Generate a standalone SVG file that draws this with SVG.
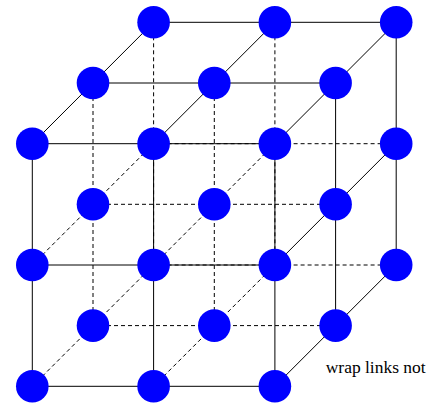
<svg xmlns="http://www.w3.org/2000/svg" width="429" height="405" viewBox="0 0 429 405">
<style>
.s{stroke:#000;stroke-width:1;fill:none}
.d{stroke:#000;stroke-width:1;fill:none;stroke-dasharray:4 3}
.n{fill:#0000ff}
.t{font-family:"Liberation Serif","Times New Roman",serif;font-size:17px;fill:#000}
</style>
<rect width="429" height="405" fill="#fff"/>
<g id="connectors">
<g id="hidden">
<line class="d" x1="153.6" y1="143.7" x2="396.2" y2="143.7"/>
<line class="d" x1="153.6" y1="265" x2="396.2" y2="265"/>
<line class="d" x1="93" y1="204.3" x2="335.6" y2="204.3"/>
<line class="d" x1="93" y1="325.6" x2="335.6" y2="325.6"/>
<line class="d" x1="153.6" y1="22.3" x2="153.6" y2="265"/>
<line class="d" x1="274.9" y1="22.3" x2="274.9" y2="265"/>
<line class="d" x1="93" y1="83" x2="93" y2="325.6"/>
<line class="d" x1="214.3" y1="83" x2="214.3" y2="325.6"/>
<line class="d" x1="32.3" y1="265" x2="153.6" y2="143.7"/>
<line class="d" x1="153.6" y1="265" x2="274.9" y2="143.7"/>
<line class="d" x1="32.3" y1="386.3" x2="153.6" y2="265"/>
<line class="d" x1="153.6" y1="386.3" x2="274.9" y2="265"/>
</g>
<g id="visible">
<line class="s" x1="32.3" y1="143.7" x2="274.9" y2="143.7"/>
<line class="s" x1="32.3" y1="265" x2="274.9" y2="265"/>
<line class="s" x1="32.3" y1="386.3" x2="274.9" y2="386.3"/>
<line class="s" x1="153.6" y1="22.3" x2="396.2" y2="22.3"/>
<line class="s" x1="93" y1="83" x2="335.6" y2="83"/>
<line class="s" x1="32.3" y1="143.7" x2="32.3" y2="386.3"/>
<line class="s" x1="153.6" y1="143.7" x2="153.6" y2="386.3"/>
<line class="s" x1="274.9" y1="143.7" x2="274.9" y2="386.3"/>
<line class="s" x1="396.2" y1="22.3" x2="396.2" y2="265"/>
<line class="s" x1="335.6" y1="83" x2="335.6" y2="325.6"/>
<line class="s" x1="32.3" y1="143.7" x2="153.6" y2="22.3"/>
<line class="s" x1="153.6" y1="143.7" x2="274.9" y2="22.3"/>
<line class="s" x1="274.9" y1="143.7" x2="396.2" y2="22.3"/>
<line class="s" x1="274.9" y1="265" x2="396.2" y2="143.7"/>
<line class="s" x1="274.9" y1="386.3" x2="396.2" y2="265"/>
</g>
</g>
<g id="n-back-0-0"><circle class="n" cx="153.6" cy="22.3" r="16.3"/></g>
<g id="n-back-1-0"><circle class="n" cx="274.9" cy="22.3" r="16.3"/></g>
<g id="n-back-2-0"><circle class="n" cx="396.2" cy="22.3" r="16.3"/></g>
<g id="n-back-2-1"><circle class="n" cx="396.2" cy="143.7" r="16.3"/></g>
<g id="n-back-2-2"><circle class="n" cx="396.2" cy="265" r="16.3"/></g>
<g id="n-mid-0-0"><circle class="n" cx="93" cy="83" r="16.3"/></g>
<g id="n-mid-1-0"><circle class="n" cx="214.3" cy="83" r="16.3"/></g>
<g id="n-mid-2-0"><circle class="n" cx="335.6" cy="83" r="16.3"/></g>
<g id="n-mid-0-1"><circle class="n" cx="93" cy="204.3" r="16.3"/></g>
<g id="n-mid-1-1"><circle class="n" cx="214.3" cy="204.3" r="16.3"/></g>
<g id="n-mid-2-1"><circle class="n" cx="335.6" cy="204.3" r="16.3"/></g>
<g id="n-mid-0-2"><circle class="n" cx="93" cy="325.6" r="16.3"/></g>
<g id="n-mid-1-2"><circle class="n" cx="214.3" cy="325.6" r="16.3"/></g>
<g id="n-mid-2-2"><circle class="n" cx="335.6" cy="325.6" r="16.3"/></g>
<g id="n-front-0-0"><circle class="n" cx="32.3" cy="143.7" r="16.3"/></g>
<g id="n-front-1-0"><circle class="n" cx="153.6" cy="143.7" r="16.3"/></g>
<g id="n-front-2-0"><circle class="n" cx="274.9" cy="143.7" r="16.3"/></g>
<g id="n-front-0-1"><circle class="n" cx="32.3" cy="265" r="16.3"/></g>
<g id="n-front-1-1"><circle class="n" cx="153.6" cy="265" r="16.3"/></g>
<g id="n-front-2-1"><circle class="n" cx="274.9" cy="265" r="16.3"/></g>
<g id="n-front-0-2"><circle class="n" cx="32.3" cy="386.3" r="16.3"/></g>
<g id="n-front-1-2"><circle class="n" cx="153.6" cy="386.3" r="16.3"/></g>
<g id="n-front-2-2"><circle class="n" cx="274.9" cy="386.3" r="16.3"/></g>
<text class="t" x="325.7" y="373" textLength="100" lengthAdjust="spacingAndGlyphs">wrap links not</text>
</svg>
